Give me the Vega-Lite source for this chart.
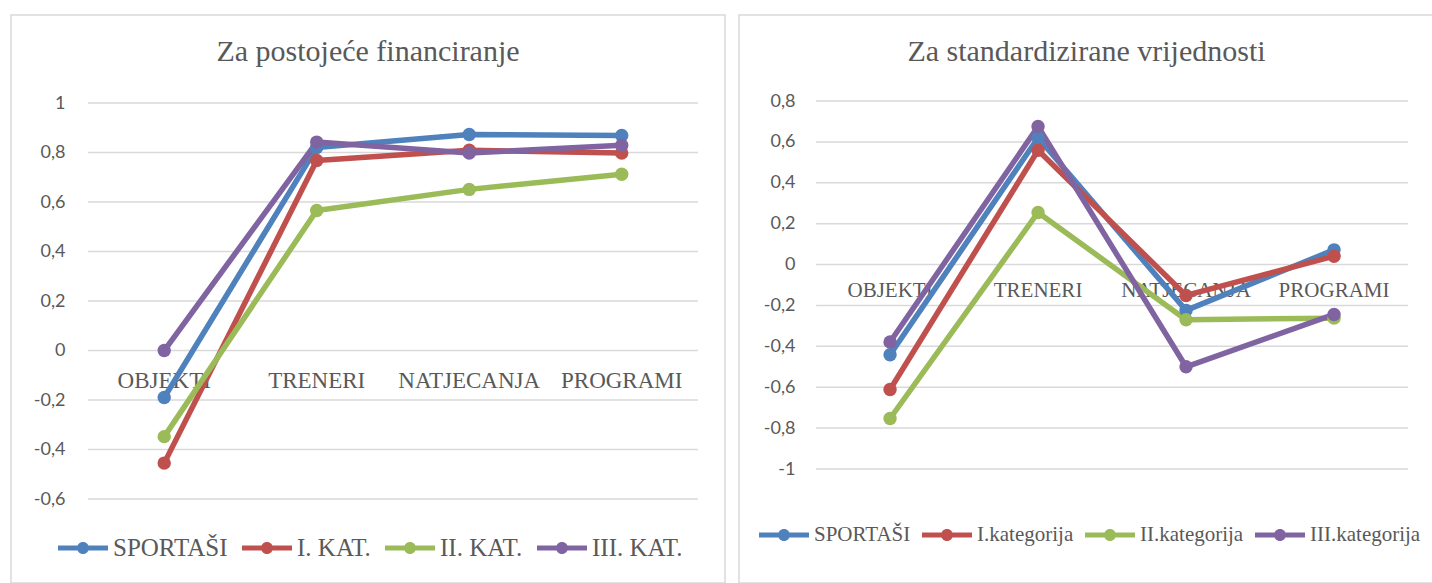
{
  "$schema": "https://vega.github.io/schema/vega-lite/v6.json",
  "padding": {"left": 10, "top": 14, "right": 0, "bottom": 0},
  "background": "white",
  "datasets": {
    "left": [
      {"cat": "OBJEKTI", "series": "SPORTAŠI", "value": -0.19},
      {"cat": "TRENERI", "series": "SPORTAŠI", "value": 0.82},
      {"cat": "NATJECANJA", "series": "SPORTAŠI", "value": 0.873},
      {"cat": "PROGRAMI", "series": "SPORTAŠI", "value": 0.869},
      {"cat": "OBJEKTI", "series": "I. KAT.", "value": -0.455},
      {"cat": "TRENERI", "series": "I. KAT.", "value": 0.768},
      {"cat": "NATJECANJA", "series": "I. KAT.", "value": 0.809},
      {"cat": "PROGRAMI", "series": "I. KAT.", "value": 0.798},
      {"cat": "OBJEKTI", "series": "II. KAT.", "value": -0.348},
      {"cat": "TRENERI", "series": "II. KAT.", "value": 0.566},
      {"cat": "NATJECANJA", "series": "II. KAT.", "value": 0.651},
      {"cat": "PROGRAMI", "series": "II. KAT.", "value": 0.712},
      {"cat": "OBJEKTI", "series": "III. KAT.", "value": 0.0},
      {"cat": "TRENERI", "series": "III. KAT.", "value": 0.842},
      {"cat": "NATJECANJA", "series": "III. KAT.", "value": 0.798},
      {"cat": "PROGRAMI", "series": "III. KAT.", "value": 0.829}
    ],
    "right": [
      {"cat": "OBJEKTI", "series": "SPORTAŠI", "value": -0.441},
      {"cat": "TRENERI", "series": "SPORTAŠI", "value": 0.62},
      {"cat": "NATJECANJA", "series": "SPORTAŠI", "value": -0.224},
      {"cat": "PROGRAMI", "series": "SPORTAŠI", "value": 0.072},
      {"cat": "OBJEKTI", "series": "I.kategorija", "value": -0.611},
      {"cat": "TRENERI", "series": "I.kategorija", "value": 0.559},
      {"cat": "NATJECANJA", "series": "I.kategorija", "value": -0.151},
      {"cat": "PROGRAMI", "series": "I.kategorija", "value": 0.041},
      {"cat": "OBJEKTI", "series": "II.kategorija", "value": -0.753},
      {"cat": "TRENERI", "series": "II.kategorija", "value": 0.255},
      {"cat": "NATJECANJA", "series": "II.kategorija", "value": -0.27},
      {"cat": "PROGRAMI", "series": "II.kategorija", "value": -0.262},
      {"cat": "OBJEKTI", "series": "III.kategorija", "value": -0.379},
      {"cat": "TRENERI", "series": "III.kategorija", "value": 0.675},
      {"cat": "NATJECANJA", "series": "III.kategorija", "value": -0.5},
      {"cat": "PROGRAMI", "series": "III.kategorija", "value": -0.244}
    ],
    "gridL": [{"g": 1}, {"g": 0.8}, {"g": 0.6}, {"g": 0.4}, {"g": 0.2}, {"g": 0}, {"g": -0.2}, {"g": -0.4}, {"g": -0.6}],
    "gridR": [{"g": 0.8}, {"g": 0.6}, {"g": 0.4}, {"g": 0.2}, {"g": 0}, {"g": -0.2}, {"g": -0.4}, {"g": -0.6}, {"g": -0.8}, {"g": -1}],
    "cats": [{"cat": "OBJEKTI"}, {"cat": "TRENERI"}, {"cat": "NATJECANJA"}, {"cat": "PROGRAMI"}]
  },
  "spacing": 12,
  "hconcat": [
    {
      "width": 714,
      "height": 568,
      "title": {"text": "Za postojeće financiranje", "offset": -67, "baseline": "middle", "anchor": "middle", "fontSize": 30},
      "layer": [
        {
          "data": {"name": "gridL"},
          "mark": {"type": "rule", "color": "#D9D9D9", "strokeWidth": 1.5},
          "encoding": {
            "x": {"datum": "OBJEKTI", "type": "nominal", "bandPosition": 0,
                  "scale": {"type": "band", "domain": ["OBJEKTI", "TRENERI", "NATJECANJA", "PROGRAMI"], "paddingInner": 0, "paddingOuter": 0.341, "align": 0.74}, "axis": null},
            "x2": {"datum": "PROGRAMI", "bandPosition": 1},
            "y": {"field": "g", "type": "quantitative",
                  "scale": {"domain": [-0.9394, 1.3556], "nice": false, "zero": false},
                  "axis": {"values": [1, 0.8, 0.6, 0.4, 0.2, 0, -0.2, -0.4, -0.6], "format": "~g", "grid": false, "domain": false, "ticks": false, "tickSize": 0, "labelPadding": 0, "offset": -54, "title": null, "labelFont": "Lato", "labelFontSize": 18, "labelColor": "#595959"}}
          }
        },
        {
          "data": {"name": "cats"},
          "mark": {"type": "text", "dy": 30, "font": "Liberation Serif", "fontSize": 23, "color": "#595959"},
          "encoding": {
            "x": {"field": "cat", "type": "nominal", "axis": null},
            "y": {"datum": 0, "type": "quantitative", "axis": {"values": [1, 0.8, 0.6, 0.4, 0.2, 0, -0.2, -0.4, -0.6], "format": "~g", "grid": false, "domain": false, "ticks": false, "tickSize": 0, "labelPadding": 0, "offset": -54, "title": null, "labelFont": "Lato", "labelFontSize": 18, "labelColor": "#595959"}},
            "text": {"field": "cat"}
          }
        },
        {
          "data": {"name": "left"},
          "mark": {"type": "line", "strokeWidth": 5.5, "strokeJoin": "round", "strokeCap": "round", "point": {"filled": true, "size": 180, "opacity": 1}},
          "encoding": {
            "x": {"field": "cat", "type": "nominal", "axis": null},
            "y": {"field": "value", "type": "quantitative", "axis": {"values": [1, 0.8, 0.6, 0.4, 0.2, 0, -0.2, -0.4, -0.6], "format": "~g", "grid": false, "domain": false, "ticks": false, "tickSize": 0, "labelPadding": 0, "offset": -54, "title": null, "labelFont": "Lato", "labelFontSize": 18, "labelColor": "#595959"}},
            "color": {"field": "series", "type": "nominal",
                      "scale": {"domain": ["SPORTAŠI", "I. KAT.", "II. KAT.", "III. KAT."], "range": ["#4F81BD", "#C0504D", "#9BBB59", "#8064A2"]},
                      "legend": {"orient": "none", "legendX": 47, "legendY": 508, "direction": "horizontal", "title": null,
                                 "symbolType": "M-1,-0.1H1V0.1H-1Z M-0.24,0A0.24,0.24 0 1,1 0.24,0A0.24,0.24 0 1,1 -0.24,0Z",
                                 "symbolSize": 2500, "symbolStrokeWidth": 0, "labelFont": "Liberation Serif", "labelFontSize": 25, "labelColor": "#595959", "labelOffset": 5, "columnPadding": 14}}
          }
        }
      ]
    },
    {
      "width": 695,
      "height": 568,
      "title": {"text": "Za standardizirane vrijednosti", "offset": -67, "baseline": "middle", "anchor": "middle", "fontSize": 30},
      "layer": [
        {
          "data": {"name": "gridR"},
          "mark": {"type": "rule", "color": "#D9D9D9", "strokeWidth": 1.5},
          "encoding": {
            "x": {"datum": "OBJEKTI", "type": "nominal", "bandPosition": 0,
                  "scale": {"type": "band", "domain": ["OBJEKTI", "TRENERI", "NATJECANJA", "PROGRAMI"], "paddingInner": 0, "paddingOuter": 0.348, "align": 0.748}, "axis": null},
            "x2": {"datum": "PROGRAMI", "bandPosition": 1},
            "y": {"field": "g", "type": "quantitative",
                  "scale": {"domain": [-1.5576, 1.2207], "nice": false, "zero": false},
                  "axis": {"values": [0.8, 0.6, 0.4, 0.2, 0, -0.2, -0.4, -0.6, -0.8, -1], "format": "~g", "grid": false, "domain": false, "ticks": false, "tickSize": 0, "labelPadding": 0, "offset": -56, "title": null, "labelFont": "Lato", "labelFontSize": 18, "labelColor": "#595959"}}
          }
        },
        {
          "data": {"name": "cats"},
          "mark": {"type": "text", "dy": 26, "font": "Liberation Serif", "fontSize": 21, "color": "#595959"},
          "encoding": {
            "x": {"field": "cat", "type": "nominal", "axis": null},
            "y": {"datum": 0, "type": "quantitative", "axis": {"values": [0.8, 0.6, 0.4, 0.2, 0, -0.2, -0.4, -0.6, -0.8, -1], "format": "~g", "grid": false, "domain": false, "ticks": false, "tickSize": 0, "labelPadding": 0, "offset": -56, "title": null, "labelFont": "Lato", "labelFontSize": 18, "labelColor": "#595959"}},
            "text": {"field": "cat"}
          }
        },
        {
          "data": {"name": "right"},
          "mark": {"type": "line", "strokeWidth": 5.5, "strokeJoin": "round", "strokeCap": "round", "point": {"filled": true, "size": 180, "opacity": 1}},
          "encoding": {
            "x": {"field": "cat", "type": "nominal", "axis": null},
            "y": {"field": "value", "type": "quantitative", "axis": {"values": [0.8, 0.6, 0.4, 0.2, 0, -0.2, -0.4, -0.6, -0.8, -1], "format": "~g", "grid": false, "domain": false, "ticks": false, "tickSize": 0, "labelPadding": 0, "offset": -56, "title": null, "labelFont": "Lato", "labelFontSize": 18, "labelColor": "#595959"}},
            "color": {"field": "series", "type": "nominal",
                      "scale": {"domain": ["SPORTAŠI", "I.kategorija", "II.kategorija", "III.kategorija"], "range": ["#4F81BD", "#C0504D", "#9BBB59", "#8064A2"]},
                      "legend": {"orient": "none", "legendX": 20, "legendY": 495, "direction": "horizontal", "title": null,
                                 "symbolType": "M-1,-0.1H1V0.1H-1Z M-0.24,0A0.24,0.24 0 1,1 0.24,0A0.24,0.24 0 1,1 -0.24,0Z",
                                 "symbolSize": 2500, "symbolStrokeWidth": 0, "labelFont": "Liberation Serif", "labelFontSize": 21, "labelColor": "#595959", "labelOffset": 5, "columnPadding": 11}}
          }
        }
      ]
    }
  ],
  "resolve": {"scale": {"color": "independent", "x": "independent", "y": "independent"}, "legend": {"color": "independent"}},
  "config": {
    "view": {"stroke": "#D9D9D9", "strokeWidth": 1.5},
    "locale": {"number": {"decimal": ",", "thousands": ".", "grouping": [3], "currency": ["", " €"], "minus": "-"}},
    "title": {"font": "Liberation Serif", "fontWeight": "normal", "color": "#595959", "fontSize": 30}
  }
}
